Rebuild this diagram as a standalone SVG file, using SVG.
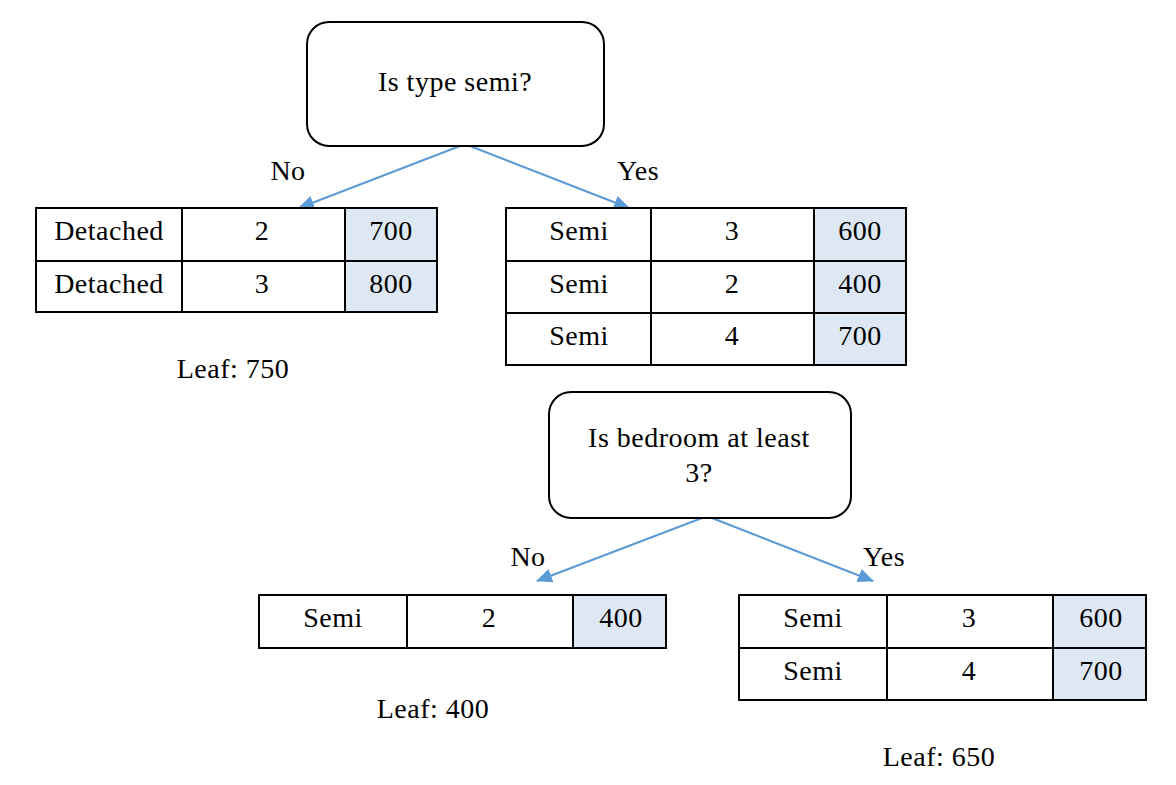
<svg xmlns="http://www.w3.org/2000/svg" width="1176" height="785" viewBox="0 0 1176 785">
<defs>
<style>
text{font-family:"Liberation Serif","Times New Roman",serif;font-size:28px;letter-spacing:0.5px;fill:#000}
.c{text-anchor:middle}
.box{fill:#fff;stroke:#000;stroke-width:2}
.cell{fill:none;stroke:#000;stroke-width:2}
.hl{fill:#dee8f4;stroke:none}
.conn{stroke:#5b9bd5;stroke-width:2;fill:none}
</style>
<marker id="ah" viewBox="0 0 16 14" refX="15" refY="7" markerWidth="16" markerHeight="14" orient="auto" markerUnits="userSpaceOnUse">
<path d="M0,0 L16,7 L0,14 z" fill="#5b9bd5"/>
</marker>
</defs>
<rect width="1176" height="785" fill="#fff"/>

<g id="connectors">
<line class="conn" x1="460" y1="146" x2="299" y2="208" marker-end="url(#ah)"/>
<line class="conn" x1="470" y1="146" x2="629" y2="208" marker-end="url(#ah)"/>
<line class="conn" x1="702" y1="518" x2="537" y2="581" marker-end="url(#ah)"/>
<line class="conn" x1="712" y1="518" x2="873" y2="581" marker-end="url(#ah)"/>
<text x="288" y="180" class="c">No</text>
<text x="638" y="180" class="c">Yes</text>
<text x="528" y="566" class="c">No</text>
<text x="884" y="566" class="c">Yes</text>
</g>

<g id="q1">
<rect class="box" x="307" y="22" width="297" height="124" rx="22"/>
<text x="455" y="91" class="c">Is type semi?</text>
</g>

<g id="t1">
<rect class="hl" x="345" y="208" width="92" height="104"/>
<rect class="cell" x="36" y="208" width="401" height="104"/>
<line class="cell" x1="36" y1="261" x2="437" y2="261"/>
<line class="cell" x1="182" y1="208" x2="182" y2="312"/>
<line class="cell" x1="345" y1="208" x2="345" y2="312"/>
<text x="109" y="240" class="c">Detached</text>
<text x="262" y="240" class="c">2</text>
<text x="391" y="240" class="c">700</text>
<text x="109" y="293" class="c">Detached</text>
<text x="262" y="293" class="c">3</text>
<text x="391" y="293" class="c">800</text>
</g>
<g id="leaf1"><text x="233" y="378" class="c">Leaf: 750</text></g>

<g id="t2">
<rect class="hl" x="814" y="208" width="92" height="157"/>
<rect class="cell" x="506" y="208" width="400" height="157"/>
<line class="cell" x1="506" y1="261" x2="906" y2="261"/>
<line class="cell" x1="506" y1="313" x2="906" y2="313"/>
<line class="cell" x1="651" y1="208" x2="651" y2="365"/>
<line class="cell" x1="814" y1="208" x2="814" y2="365"/>
<text x="579" y="240" class="c">Semi</text>
<text x="732" y="240" class="c">3</text>
<text x="860" y="240" class="c">600</text>
<text x="579" y="293" class="c">Semi</text>
<text x="732" y="293" class="c">2</text>
<text x="860" y="293" class="c">400</text>
<text x="579" y="345" class="c">Semi</text>
<text x="732" y="345" class="c">4</text>
<text x="860" y="345" class="c">700</text>
</g>

<g id="q2">
<rect class="box" x="549" y="392" width="302" height="126" rx="22"/>
<text x="699" y="447" class="c">Is bedroom at least</text>
<text x="699" y="482" class="c">3?</text>
</g>

<g id="t3">
<rect class="hl" x="573" y="595" width="93" height="53"/>
<rect class="cell" x="259" y="595" width="407" height="53"/>
<line class="cell" x1="407" y1="595" x2="407" y2="648"/>
<line class="cell" x1="573" y1="595" x2="573" y2="648"/>
<text x="333" y="627" class="c">Semi</text>
<text x="489" y="627" class="c">2</text>
<text x="621" y="627" class="c">400</text>
</g>
<g id="leaf2"><text x="433" y="718" class="c">Leaf: 400</text></g>

<g id="t4">
<rect class="hl" x="1053" y="595" width="93" height="105"/>
<rect class="cell" x="739" y="595" width="407" height="105"/>
<line class="cell" x1="739" y1="648" x2="1146" y2="648"/>
<line class="cell" x1="887" y1="595" x2="887" y2="700"/>
<line class="cell" x1="1053" y1="595" x2="1053" y2="700"/>
<text x="813" y="627" class="c">Semi</text>
<text x="969" y="627" class="c">3</text>
<text x="1101" y="627" class="c">600</text>
<text x="813" y="680" class="c">Semi</text>
<text x="969" y="680" class="c">4</text>
<text x="1101" y="680" class="c">700</text>
</g>
<g id="leaf3"><text x="939" y="766" class="c">Leaf: 650</text></g>
</svg>
